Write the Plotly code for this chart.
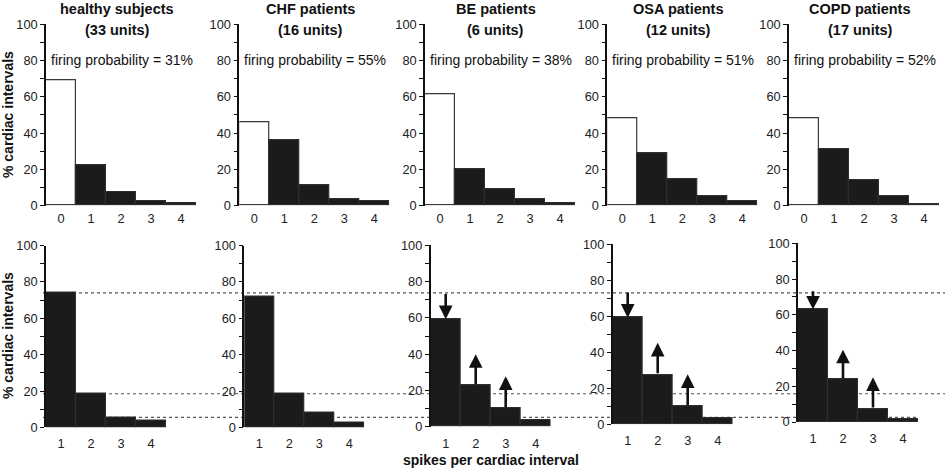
import plotly.graph_objects as go

# ---------------- data ----------------
groups = ["healthy subjects", "CHF patients", "BE patients", "OSA patients", "COPD patients"]
units = [33, 16, 6, 12, 17]
firing_prob = [31, 55, 38, 51, 52]

top_spikes = [0, 1, 2, 3, 4]
top_healthy = [69.3, 22.1, 7.2, 2.2, 1.1]
top_chf = [46.2, 36.1, 11.0, 3.7, 2.2]
top_be = [61.6, 20.0, 8.8, 3.7, 1.5]
top_osa = [48.4, 28.7, 14.4, 5.4, 2.2]
top_copd = [48.3, 30.8, 14.0, 5.0, 0.9]

bot_spikes = [1, 2, 3, 4]
bot_healthy = [74.0, 18.5, 5.5, 3.5]
bot_chf = [72.0, 18.5, 7.9, 2.7]
bot_be = [59.3, 22.6, 9.9, 3.3]
bot_osa = [59.2, 27.5, 9.8, 3.3]
bot_copd = [62.9, 23.7, 7.3, 1.3]

# arrows (bottom row): spike bins with arrows and tip values of upward arrows
arrow_down_bin = 1
arrow_up_bins = [2, 3]
arrow_up_tips_be = [40.0, 27.8]
arrow_up_tips_osa = [45.3, 27.8]
arrow_up_tips_copd = [40.5, 25.0]

top_values = [top_healthy, top_chf, top_be, top_osa, top_copd]
bot_values = [bot_healthy, bot_chf, bot_be, bot_osa, bot_copd]
arrow_tips = [None, None, arrow_up_tips_be, arrow_up_tips_osa, arrow_up_tips_copd]

# ---------------- layout geometry (pixels) ----------------
W, H = 945, 470
FONT = "Liberation Sans, Arial, Helvetica, sans-serif"
DARK = "#1b1b1b"
INK = "#111111"

top_dom_x = [(46, 196), (239.3, 389.3), (425, 575), (607.3, 757.3), (789, 939)]
top_dom_y = (24.3, 205.6)
bot_dom_x = [(46, 166), (244.3, 364.3), (430.7, 550.7), (612.7, 732.7), (798, 918)]
bot_dom_y = [(245.6, 427.4), (245.6, 427.4), (245.3, 426.7), (244.3, 424.3), (243.3, 422.0)]


def dx(a, b):
    return [a / W, b / W]


def dy(t, b):
    return [1 - b / H, 1 - t / H]


fig = go.Figure()
layout = dict(
    template="none",
    width=W, height=H, margin=dict(l=0, r=0, t=0, b=0, pad=0, autoexpand=False),
    paper_bgcolor="white", plot_bgcolor="white",
    showlegend=False, bargap=0,
    font=dict(family=FONT, color="#222222", size=12.5),
)


def yaxis_def(dom, anchor):
    return dict(
        domain=dom, anchor=anchor, range=[0, 100], automargin=False,
        tickvals=[0, 20, 40, 60, 80, 100],
        ticks="outside", ticklen=4, tickwidth=1.2, tickcolor=INK,
        showline=True, linewidth=1.6, linecolor=INK,
        showgrid=False, zeroline=False,
        minor=dict(tickvals=[10, 30, 50, 70, 90], ticks="outside", ticklen=4,
                   tickwidth=1.2, tickcolor=INK, showgrid=False),
        tickfont=dict(size=12.8, color="#222222"),
        fixedrange=True,
    )


def xaxis_def(dom, anchor, rng, vals, standoff):
    return dict(
        domain=dom, anchor=anchor, range=rng, automargin=False,
        tickvals=vals, ticktext=[str(v) for v in vals],
        ticks="", showline=False, showgrid=False, zeroline=False,
        tickfont=dict(size=12.8, color="#222222"),
        ticklabelstandoff=standoff,
        fixedrange=True,
    )


annotations = []
shapes = []

for i in range(5):
    # ---- top row ----
    n = i + 1
    xa, ya = f"x{n}", f"y{n}"
    vals = top_values[i]
    colors = ["white"] + [DARK] * (len(vals) - 1)
    lcolors = ["#3a3a3a"] + ["#2e2e2e"] * (len(vals) - 1)
    fig.add_trace(go.Bar(
        x=top_spikes, y=vals, width=1,
        marker=dict(color=colors, line=dict(color=lcolors, width=1.2)),
        xaxis=xa, yaxis=ya, hoverinfo="skip",
    ))
    layout[f"xaxis{n}"] = xaxis_def(dx(*top_dom_x[i]), ya, [-0.5, 4.5], top_spikes, 4)
    layout[f"yaxis{n}"] = yaxis_def(dy(*top_dom_y), xa)

    cx = (top_dom_x[i][0] + top_dom_x[i][1]) / 2
    annotations.append(dict(
        text=f"<b>{groups[i]}</b>", x=(cx - 4) / W, y=1 - 9 / H, xref="paper", yref="paper",
        showarrow=False, xanchor="center", yanchor="middle",
        font=dict(size=14.5, color=INK, family=FONT)))
    annotations.append(dict(
        text=f"<b>({units[i]} units)</b>", x=(cx - 4) / W, y=1 - 30 / H, xref="paper", yref="paper",
        showarrow=False, xanchor="center", yanchor="middle",
        font=dict(size=14.5, color=INK, family=FONT)))
    annotations.append(dict(
        text=f"firing probability = {firing_prob[i]}%", x=(cx + 1) / W, y=1 - 60.5 / H,
        xref="paper", yref="paper", showarrow=False, xanchor="center", yanchor="middle",
        font=dict(size=14, color=INK, family=FONT)))

    # ---- bottom row ----
    m = i + 6
    xb, yb = f"x{m}", f"y{m}"
    bvals = bot_values[i]
    fig.add_trace(go.Bar(
        x=bot_spikes, y=bvals, width=1,
        marker=dict(color=DARK, line=dict(color="#2e2e2e", width=1.2)),
        xaxis=xb, yaxis=yb, hoverinfo="skip",
    ))
    layout[f"xaxis{m}"] = xaxis_def(dx(*bot_dom_x[i]), yb, [0.5, 4.5], bot_spikes, 7)
    layout[f"yaxis{m}"] = yaxis_def(dy(*bot_dom_y[i]), xb)

    tips = arrow_tips[i]
    if tips is not None:
        # downward arrow: from healthy reference level to this group's value
        k = bot_spikes.index(arrow_down_bin)
        annotations.append(dict(
            x=arrow_down_bin, y=bvals[k], ax=arrow_down_bin, ay=bot_healthy[k],
            xref=xb, yref=yb, axref=xb, ayref=yb, text="",
            showarrow=True, arrowhead=2, arrowsize=1.05, arrowwidth=2.6, arrowcolor=INK))
        for b, tip in zip(arrow_up_bins, tips):
            k = bot_spikes.index(b)
            annotations.append(dict(
                x=b, y=tip, ax=b, ay=bvals[k],
                xref=xb, yref=yb, axref=xb, ayref=yb, text="",
                showarrow=True, arrowhead=2, arrowsize=1.05, arrowwidth=2.6, arrowcolor=INK))

# dotted reference lines at the healthy-subject values (bottom row)
line_ends = [1.0, 1.0, 917 / W]
for v, xe in zip(bot_healthy[:3], line_ends):
    shapes.append(dict(
        type="line", xref="paper", yref="y6", x0=43 / W, x1=xe, y0=v, y1=v,
        line=dict(color="#555555", width=1.2, dash="dot"), layer="below"))

# axis titles
for yc in (115, 336):
    annotations.append(dict(
        text="<b>% cardiac intervals</b>", x=8 / W, y=1 - yc / H, xref="paper", yref="paper",
        showarrow=False, textangle=-90, xanchor="center", yanchor="middle",
        font=dict(size=14, color=INK, family=FONT)))
annotations.append(dict(
    text="<b>spikes per cardiac interval</b>", x=491 / W, y=1 - 460 / H, xref="paper", yref="paper",
    showarrow=False, xanchor="center", yanchor="middle",
    font=dict(size=14, color=INK, family=FONT)))

layout["annotations"] = annotations
layout["shapes"] = shapes
fig.update_layout(**layout)
fig.write_html(
    "out.html",
    config={"displayModeBar": False},
    post_script="document.body.style.margin='0';document.body.style.padding='0';",
)
